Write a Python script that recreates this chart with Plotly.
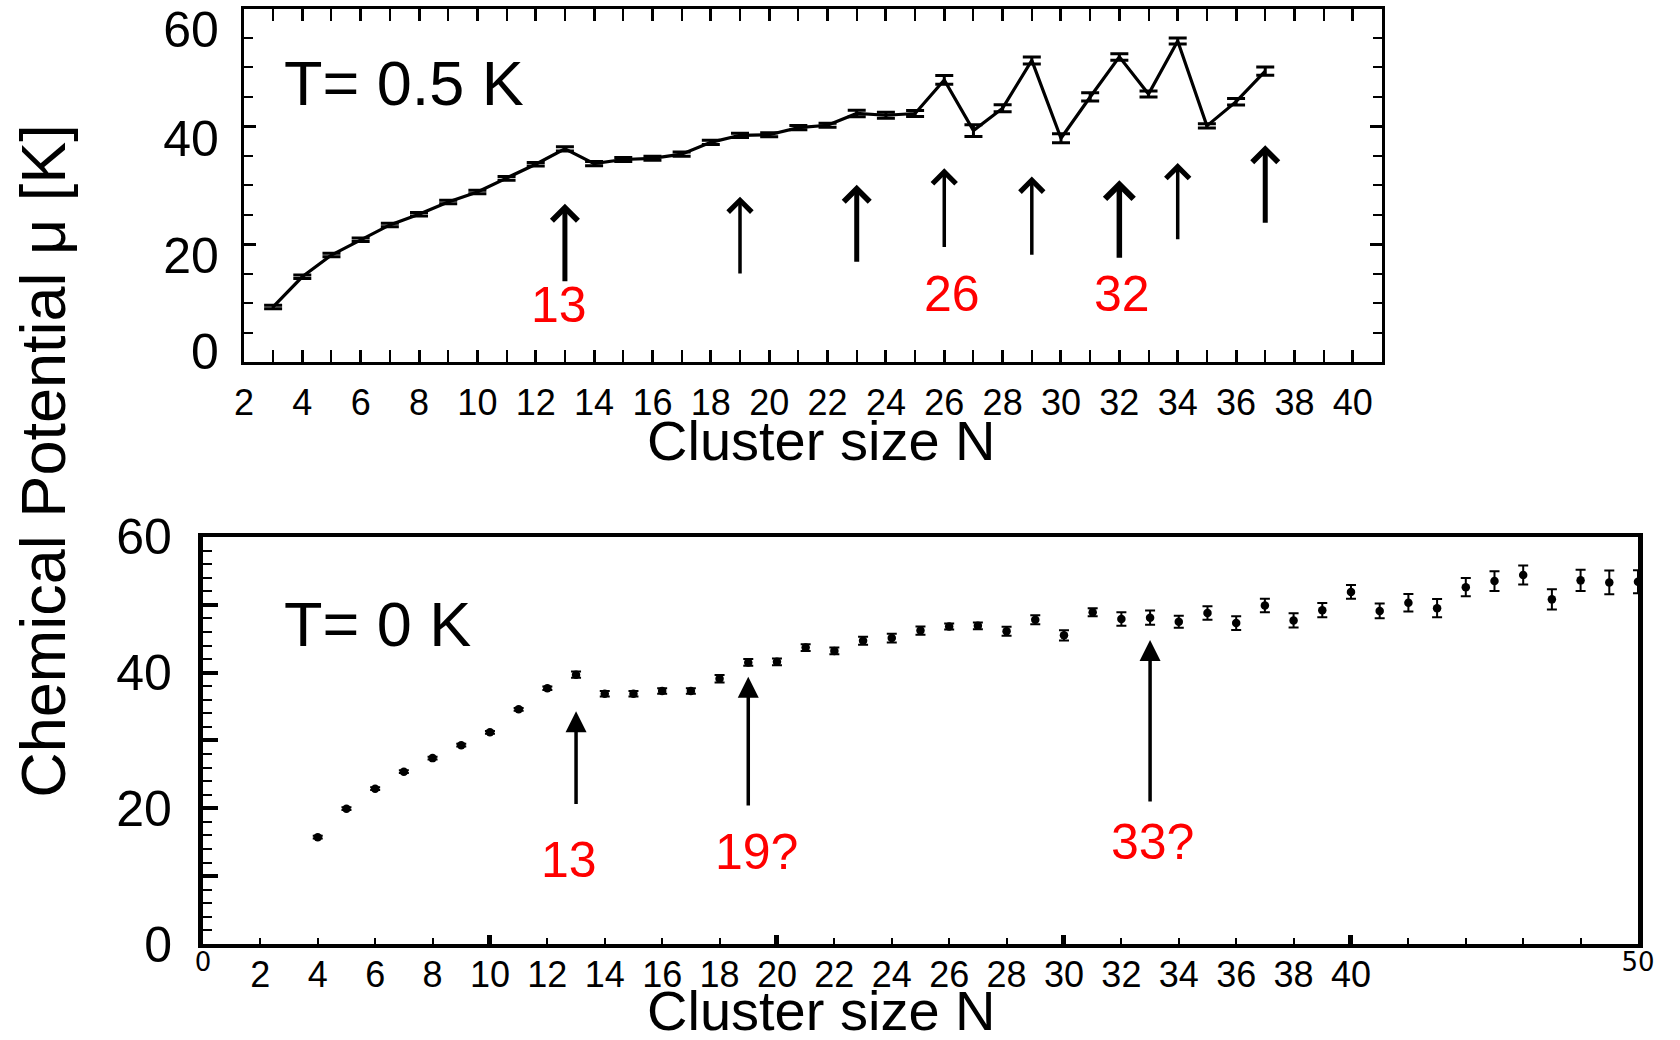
import plotly.graph_objects as go

# ---------------- data ----------------
# T = 0.5 K (top panel)
N_top = list(range(3, 38))
mu_top = [9.4, 14.5, 18.2, 20.8, 23.3, 25.1, 27.2, 28.9, 31.2, 33.6,
          36.2, 33.7, 34.4, 34.6, 35.3, 37.3, 38.5, 38.6, 39.8, 40.2,
          42.2, 41.9, 42.2, 47.9, 39.3, 43.1, 51.2, 38.0, 45.0, 51.8,
          45.5, 54.5, 40.1, 44.2, 49.4]
err_top = [0.3, 0.3, 0.3, 0.3, 0.3, 0.3, 0.3, 0.3, 0.3, 0.3,
           0.35, 0.35, 0.35, 0.35, 0.35, 0.35, 0.35, 0.35, 0.35, 0.35,
           0.55, 0.5, 0.5, 0.75, 1.0, 0.6, 0.6, 0.75, 0.7, 0.55,
           0.5, 0.5, 0.35, 0.55, 0.7]

# T = 0 K (bottom panel)
N_bot = list(range(4, 51))
mu_bot = [15.75, 19.95, 22.9, 25.4, 27.4, 29.3, 31.2, 34.6, 37.7, 39.7,
          36.9, 36.9, 37.3, 37.3, 39.1, 41.5, 41.6,
          43.7, 43.2, 44.7, 45.1, 46.2, 46.8, 46.9, 46.1, 47.8, 45.5,
          48.9, 47.9, 48.1, 47.5, 48.8, 47.3, 49.9, 47.7, 49.2, 51.9,
          49.1, 50.3, 49.5, 52.6, 53.5, 54.4, 50.8, 53.6, 53.3, 53.4]
err_bot = [0.2, 0.2, 0.2, 0.2, 0.2, 0.2, 0.2, 0.2, 0.25, 0.45,
           0.4, 0.4, 0.4, 0.4, 0.55, 0.5, 0.5,
           0.5, 0.5, 0.6, 0.65, 0.6, 0.45, 0.5, 0.65, 0.65, 0.75,
           0.6, 1.0, 1.05, 0.9, 1.0, 1.0, 1.0, 1.05, 1.05, 1.0,
           1.1, 1.3, 1.35, 1.35, 1.45, 1.4, 1.5, 1.55, 1.75, 1.7]

# arrows: (N, head value, tail value, line width)
arrows_top = [(13, 26.9, 13.5, 5.0), (19, 28.1, 14.8, 3.5), (23, 30.1, 16.8, 5.0),
              (26, 32.9, 19.3, 3.5), (29, 31.5, 18.0, 3.5), (32, 30.9, 17.5, 5.5),
              (34, 33.8, 20.6, 3.5), (37, 36.8, 23.4, 5.0)]
arrows_bot = [(13, 34.3, 20.4), (19, 39.4, 20.2), (33, 44.8, 20.8)]

# red magic-number labels: (text, N, value)
labels_top = [("13", 12.8, 9.7), ("26", 26.25, 11.6), ("32", 32.1, 11.6)]
labels_bot = [("13", 12.75, 12.4), ("19?", 19.3, 13.6), ("33?", 33.1, 15.0)]

# tick labels
x_ticks = list(range(2, 41, 2))
x_ticktext = [str(v) for v in x_ticks]
# the top panel's y labels were pasted onto the figure slightly below their ticks
y_label_vals_top = [1.8, 18.2, 37.9, 56.4]
y_label_text_top = ["0", "20", "40", "60"]
y_ticks_bot = list(range(0, 61, 10))
y_ticktext_bot = ["0", "", "20", "", "40", "", "60"]
edge_ticks_bot = [0, 10, 20, 30, 40, 50]
edge_ticktext_bot = ["0", "", "", "", "", "50"]

FONT = "Liberation Sans"

fig = go.Figure()

fig.add_trace(go.Scatter(
    x=N_top, y=mu_top, mode="lines", xaxis="x", yaxis="y",
    line=dict(color="black", width=3.2),
    error_y=dict(type="data", array=err_top, color="black", thickness=3, width=9),
    showlegend=False, hoverinfo="skip"))

fig.add_trace(go.Scatter(
    x=N_bot, y=mu_bot, mode="markers", xaxis="x2", yaxis="y2",
    marker=dict(color="black", size=8.5),
    error_y=dict(type="data", array=err_bot, color="black", thickness=2, width=5),
    showlegend=False, hoverinfo="skip"))

# empty traces so the overlay axes (labels / decade ticks) are drawn
fig.add_trace(go.Scatter(x=[], y=[], xaxis="x3", yaxis="y2", showlegend=False,
                         hoverinfo="skip"))
fig.add_trace(go.Scatter(x=[], y=[], xaxis="x", yaxis="y3", showlegend=False,
                         hoverinfo="skip"))

ann = []
for n, h, t, w in arrows_top:
    ann.append(dict(x=n, y=h, ax=n, ay=t, xref="x", yref="y", axref="x", ayref="y",
                    text="", showarrow=True, arrowhead=4, arrowsize=1.0 if w > 4 else 1.3,
                    arrowwidth=w, arrowcolor="black", standoff=0))
for n, h, t in arrows_bot:
    ann.append(dict(x=n, y=h, ax=n, ay=t, xref="x2", yref="y2", axref="x2", ayref="y2",
                    text="", showarrow=True, arrowhead=2, arrowsize=1.2,
                    arrowwidth=3.5, arrowcolor="black", standoff=0))
for txt, n, v in labels_top:
    ann.append(dict(x=n, y=v, xref="x", yref="y", text=txt, showarrow=False,
                    font=dict(family=FONT, size=50, color="#ff0000"),
                    xanchor="center", yanchor="middle"))
for txt, n, v in labels_bot:
    ann.append(dict(x=n, y=v, xref="x2", yref="y2", text=txt, showarrow=False,
                    font=dict(family=FONT, size=50, color="#ff0000"),
                    xanchor="center", yanchor="middle"))

ann.append(dict(x=3.3, y=47.3, xref="x", yref="y", text="T= 0.5 K", showarrow=False,
                font=dict(family=FONT, size=63, color="black"), xanchor="left", yanchor="middle"))
ann.append(dict(x=2.75, y=47.2, xref="x2", yref="y2", text="T= 0 K", showarrow=False,
                font=dict(family=FONT, size=63, color="black"), xanchor="left", yanchor="middle"))
ann.append(dict(x=0.4887, y=0.576, xref="paper", yref="paper", text="Cluster size N",
                showarrow=False, font=dict(family=FONT, size=56, color="black"),
                xanchor="center", yanchor="middle"))
ann.append(dict(x=0.4887, y=0.028, xref="paper", yref="paper", text="Cluster size N",
                showarrow=False, font=dict(family=FONT, size=56, color="black"),
                xanchor="center", yanchor="middle"))
ann.append(dict(x=0.0256, y=0.557, xref="paper", yref="paper", text="Chemical Potential μ [K]",
                textangle=-90, showarrow=False, font=dict(family=FONT, size=63, color="black"),
                xanchor="center", yanchor="middle"))

tickfont = dict(family=FONT, size=36, color="black")
yfont = dict(family=FONT, size=50, color="black")
TOP_Y_DOMAIN = [0.6516, 0.9918]

fig.update_layout(
    width=1680, height=1040,
    margin=dict(l=0, r=0, t=0, b=0, autoexpand=False),
    paper_bgcolor="white", plot_bgcolor="white",
    showlegend=False,
    annotations=ann,
    xaxis=dict(domain=[0.1452, 0.8226], range=[2, 41], anchor="y", automargin=False,
               showline=True, linewidth=3, linecolor="black", mirror="allticks",
               ticks="inside", ticklen=12, tickwidth=2.5, tickcolor="black",
               tickvals=x_ticks, ticktext=x_ticktext, tickfont=tickfont,
               ticklabelstandoff=6,
               minor=dict(ticks="inside", dtick=1, tick0=0, ticklen=7, tickwidth=2, tickcolor="black"),
               showgrid=False, zeroline=False),
    yaxis=dict(domain=TOP_Y_DOMAIN, range=[0, 60], anchor="x", automargin=False,
               showline=True, linewidth=3, linecolor="black", mirror="allticks",
               ticks="inside", ticklen=12, tickwidth=2.5, tickcolor="black",
               tick0=0, dtick=20, showticklabels=False,
               minor=dict(ticks="inside", dtick=5, tick0=0, ticklen=9, tickwidth=2, tickcolor="black"),
               showgrid=False, zeroline=False),
    yaxis3=dict(domain=TOP_Y_DOMAIN, range=[0, 60], anchor="x", overlaying="y", side="left",
                automargin=False, showline=False, ticks="",
                tickvals=y_label_vals_top, ticktext=y_label_text_top, tickfont=yfont,
                ticklabelstandoff=24, ticklabeloverflow="allow",
                showgrid=False, zeroline=False),
    xaxis2=dict(domain=[0.1208, 0.975], range=[0, 50], anchor="y2", automargin=False,
                showline=True, linewidth=3.5, linecolor="black", mirror=True,
                ticks="inside", ticklen=6, tickwidth=2, tickcolor="black",
                tickvals=x_ticks, ticktext=x_ticktext, tickfont=tickfont,
                ticklabelstandoff=-4,
                minor=dict(ticks="inside", dtick=2, tick0=0, ticklen=6, tickwidth=2, tickcolor="black"),
                showgrid=False, zeroline=False),
    xaxis3=dict(domain=[0.1208, 0.975], range=[0, 50], anchor="y2", overlaying="x2",
                automargin=False, side="bottom", showline=False, ticks="inside", ticklen=9,
                tickwidth=4.5, tickcolor="black", tickvals=edge_ticks_bot,
                ticktext=edge_ticktext_bot,
                tickfont=dict(family="DejaVu Sans", size=26, color="black"),
                showgrid=False, zeroline=False),
    yaxis2=dict(domain=[0.0923, 0.4837], range=[0, 60], anchor="x2", automargin=False,
                showline=True, linewidth=5, linecolor="black", mirror=True,
                ticks="inside", ticklen=15, tickwidth=3.5, tickcolor="black",
                tickvals=y_ticks_bot, ticktext=y_ticktext_bot, tickfont=yfont,
                ticklabelstandoff=16,
                minor=dict(ticks="inside", dtick=2, tick0=0, ticklen=9, tickwidth=2, tickcolor="black"),
                showgrid=False, zeroline=False),
)

fig.write_html("out.html")
